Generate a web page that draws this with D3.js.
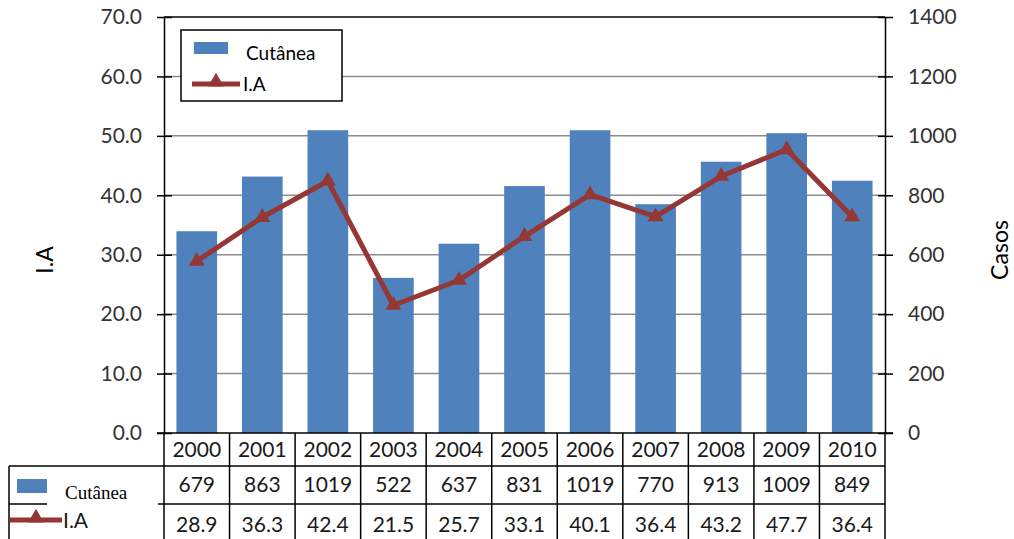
<!DOCTYPE html>
<html>
<head>
<meta charset="utf-8">
<script src="https://cdn.jsdelivr.net/npm/d3@7"></script>
<style>
  body { margin: 0; background: #fff; }
  text { font-family: Lato, "Open Sans", sans-serif; }
</style>
</head>
<body>
<script>
var years = ['2000', '2001', '2002', '2003', '2004', '2005', '2006', '2007', '2008', '2009', '2010'];
var casos = [679, 863, 1019, 522, 637, 831, 1019, 770, 913, 1009, 849];
var ia = [28.9, 36.3, 42.4, 21.5, 25.7, 33.1, 40.1, 36.4, 43.2, 47.7, 36.4];
var leftTicks = [0, 10, 20, 30, 40, 50, 60, 70];
var rightTicks = [0, 200, 400, 600, 800, 1000, 1200, 1400];

var width = 1014;
var height = 539;
var margin = { left: 164, right: 129, top: 17, bottom: 106 };
var plotBottom = height - margin.bottom;
var plotRight = width - margin.right;

var barColor = '#4f81bd';
var lineColor = '#953735';
var textColor = '#333';

var xScale = d3.scaleBand()
  .domain(years)
  .range([margin.left, plotRight]);

var yLeft = d3.scaleLinear()
  .domain([0, 70])
  .range([plotBottom, margin.top]);

var yRight = d3.scaleLinear()
  .domain([0, 1400])
  .range([plotBottom, margin.top]);

var svg = d3.select('body')
  .append('svg')
  .attr('width', width)
  .attr('height', height);

// gridlines
svg.append('g')
  .selectAll('line')
  .data(leftTicks.slice(1, -1))
  .enter().append('line')
  .attr('x1', margin.left)
  .attr('x2', plotRight)
  .attr('y1', function(d) { return yLeft(d); })
  .attr('y2', function(d) { return yLeft(d); })
  .attr('stroke', '#8c8c8c')
  .attr('stroke-width', 1.5);

// bars
var barW = xScale.bandwidth() * 0.62;
svg.append('g')
  .selectAll('rect')
  .data(casos)
  .enter().append('rect')
  .attr('x', function(d, i) { return xScale(years[i]) + (xScale.bandwidth() - barW) / 2; })
  .attr('y', function(d) { return yRight(d); })
  .attr('width', barW)
  .attr('height', function(d) { return plotBottom - yRight(d); })
  .attr('fill', barColor);

// line
var line = d3.line()
  .x(function(d, i) { return xScale(years[i]) + xScale.bandwidth() / 2; })
  .y(function(d) { return yLeft(d); });

svg.append('path')
  .datum(ia)
  .attr('d', line)
  .attr('fill', 'none')
  .attr('stroke', lineColor)
  .attr('stroke-width', 5)
  .attr('stroke-linejoin', 'round');

var tri = d3.symbol().type(d3.symbolTriangle).size(110);
svg.append('g')
  .selectAll('path')
  .data(ia)
  .enter().append('path')
  .attr('d', tri)
  .attr('transform', function(d, i) {
    return 'translate(' + (xScale(years[i]) + xScale.bandwidth() / 2) + ',' + yLeft(d) + ')';
  })
  .attr('fill', lineColor);

// frame: top
svg.append('line')
  .attr('x1', margin.left).attr('x2', plotRight)
  .attr('y1', margin.top).attr('y2', margin.top)
  .attr('stroke', '#000').attr('stroke-width', 1.5);

var yAxisL = d3.axisLeft(yLeft)
  .tickValues(leftTicks)
  .tickSize(0)
  .tickPadding(22)
  .tickFormat(d3.format('.1f'));

var gl = svg.append('g')
  .attr('transform', 'translate(' + margin.left + ',0)')
  .call(yAxisL);

var yAxisR = d3.axisRight(yRight)
  .tickValues(rightTicks)
  .tickSize(0)
  .tickPadding(23)
  .tickFormat(d3.format('d'));

var gr = svg.append('g')
  .attr('transform', 'translate(' + plotRight + ',0)')
  .call(yAxisR);

[gl, gr].forEach(function(g) {
  g.select('.domain').attr('stroke', '#000').attr('stroke-width', 1.5);
  g.selectAll('.tick text')
    .attr('font-size', 21)
    .attr('fill', textColor)
    .style('font-family', 'Lato, sans-serif');
  g.selectAll('.tick').append('line')
    .attr('x1', -7).attr('x2', 8)
    .attr('stroke', '#000').attr('stroke-width', 1.5);
});

// x axis line
svg.append('line')
  .attr('x1', margin.left - 7).attr('x2', plotRight + 8)
  .attr('y1', plotBottom).attr('y2', plotBottom)
  .attr('stroke', '#000').attr('stroke-width', 1.5);

// axis titles
svg.append('text')
  .attr('transform', 'translate(53,260) rotate(-90)')
  .attr('text-anchor', 'middle')
  .attr('font-size', 23)
  .attr('fill', '#000')
  .text('I.A');

svg.append('text')
  .attr('transform', 'translate(1008,250) rotate(-90)')
  .attr('text-anchor', 'middle')
  .attr('font-size', 23)
  .attr('fill', '#000')
  .text('Casos');

// data table
var rowY = [plotBottom, 466, 504, 545];
var table = svg.append('g');

// vertical lines
table.selectAll('line.v')
  .data(years.concat(['end']))
  .enter().append('line')
  .attr('x1', function(d, i) { return margin.left + i * xScale.step(); })
  .attr('x2', function(d, i) { return margin.left + i * xScale.step(); })
  .attr('y1', plotBottom)
  .attr('y2', height)
  .attr('stroke', '#000')
  .attr('stroke-width', 1.5);

// horizontal lines
table.selectAll('line.h')
  .data([rowY[1], rowY[2]])
  .enter().append('line')
  .attr('x1', 9)
  .attr('x2', plotRight)
  .attr('y1', function(d) { return d; })
  .attr('y2', function(d) { return d; })
  .attr('stroke', '#000')
  .attr('stroke-width', 1.5);

table.append('line')
  .attr('x1', 9).attr('x2', 9)
  .attr('y1', rowY[1]).attr('y2', height)
  .attr('stroke', '#000').attr('stroke-width', 1.5);

var rows = [years, casos, ia.map(function(v) { return v.toFixed(1); })];
rows.forEach(function(row, r) {
  table.selectAll('text.r' + r)
    .data(row)
    .enter().append('text')
    .attr('x', function(d, i) { return xScale(years[i]) + xScale.bandwidth() / 2; })
    .attr('y', (rowY[r] + rowY[r + 1]) / 2 + 7)
    .attr('text-anchor', 'middle')
    .attr('font-size', 21)
    .attr('fill', '#1a1a1a')
    .text(function(d) { return d; });
});

// table legend keys
table.append('rect')
  .attr('x', 17).attr('y', 479)
  .attr('width', 30).attr('height', 14)
  .attr('fill', barColor);

table.append('rect')
  .attr('x', 47).attr('y', 468)
  .attr('width', 111).attr('height', 38)
  .attr('fill', '#fff');

table.append('text')
  .attr('x', 65).attr('y', 499)
  .attr('font-size', 19)
  .style('font-family', '"Liberation Serif", "Times New Roman", serif')
  .attr('fill', '#000')
  .text('Cutânea');

table.append('line')
  .attr('x1', 10).attr('x2', 62)
  .attr('y1', 520).attr('y2', 520)
  .attr('stroke', lineColor).attr('stroke-width', 5);

table.append('path')
  .attr('d', tri)
  .attr('transform', 'translate(36,518)')
  .attr('fill', lineColor);

table.append('text')
  .attr('x', 63).attr('y', 528)
  .attr('font-size', 21)
  .attr('fill', '#1a1a1a')
  .text('I.A');

// legend box
var legend = svg.append('g');
legend.append('rect')
  .attr('x', 181).attr('y', 30)
  .attr('width', 161).attr('height', 71)
  .attr('fill', '#fff')
  .attr('stroke', '#000')
  .attr('stroke-width', 1.5);

legend.append('rect')
  .attr('x', 194).attr('y', 42)
  .attr('width', 34).attr('height', 12)
  .attr('fill', barColor);

legend.append('text')
  .attr('x', 246).attr('y', 60)
  .attr('font-size', 19)
  .attr('fill', '#000')
  .text('Cutânea');

legend.append('line')
  .attr('x1', 192).attr('x2', 240)
  .attr('y1', 84).attr('y2', 84)
  .attr('stroke', lineColor).attr('stroke-width', 5);

legend.append('path')
  .attr('d', tri)
  .attr('transform', 'translate(216,82)')
  .attr('fill', lineColor);

legend.append('text')
  .attr('x', 243).attr('y', 91)
  .attr('font-size', 19)
  .attr('fill', '#000')
  .text('I.A');
</script>
</body>
</html>
